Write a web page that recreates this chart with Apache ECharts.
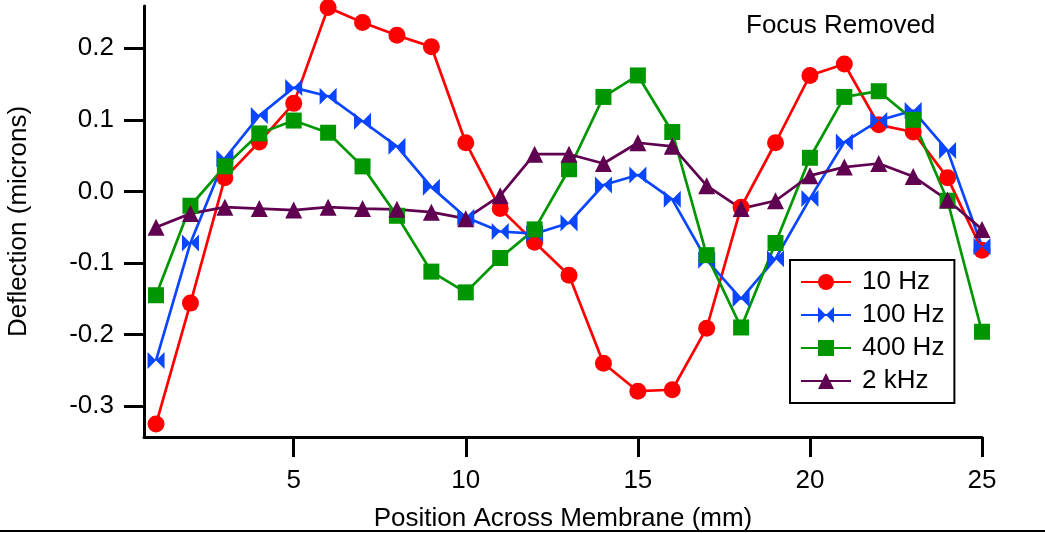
<!DOCTYPE html>
<html>
<head>
<meta charset="utf-8">
<script src="https://cdn.jsdelivr.net/npm/echarts@6/dist/echarts.min.js"></script>
<style>
html,body{margin:0;padding:0;background:#fff;}
#chart{width:1045px;height:533px;}
</style>
</head>
<body>
<div id="chart"></div>
<script>
// ---- data ----
var positions = [1,2,3,4,5,6,7,8,9,10,11,12,13,14,15,16,17,18,19,20,21,22,23,24,25];
var hz10  = [-0.325,-0.156,0.019,0.069,0.123,0.257,0.236,0.218,0.202,0.068,-0.024,-0.071,-0.117,-0.240,-0.279,-0.277,-0.191,-0.022,0.068,0.162,0.178,0.093,0.083,0.019,-0.082];
var hz100 = [-0.236,-0.072,0.046,0.106,0.145,0.133,0.098,0.063,0.006,-0.036,-0.056,-0.059,-0.044,0.009,0.023,-0.011,-0.096,-0.150,-0.094,-0.010,0.069,0.099,0.113,0.057,-0.077];
var hz400 = [-0.145,-0.020,0.035,0.081,0.099,0.082,0.035,-0.034,-0.112,-0.141,-0.093,-0.053,0.031,0.132,0.162,0.083,-0.089,-0.190,-0.072,0.047,0.132,0.140,0.100,-0.013,-0.196];
var khz2  = [-0.050,-0.031,-0.022,-0.024,-0.026,-0.022,-0.024,-0.025,-0.029,-0.038,-0.006,0.052,0.052,0.039,0.068,0.063,0.008,-0.024,-0.013,0.022,0.034,0.039,0.021,-0.012,-0.053];
var seriesNames = ['10 Hz','100 Hz','400 Hz','2 kHz'];
var xTicks = [5,10,15,20,25];
var yTicks = [-0.3,-0.2,-0.1,0,0.1,0.2];

function pairs(vals){ return positions.map(function(p,i){ return [p, vals[i]]; }); }

var FONT = 'Liberation Sans, Arial, Helvetica, sans-serif';
var FS = 26;
var bowtie = 'path://M0,0L8,8L0,16ZM16,0L8,8L16,16Z';

function mk(name, vals, color, symbol, size){
  return {
    name: name, type: 'line', data: pairs(vals), clip: false,
    symbol: symbol, symbolSize: size, showAllSymbol: true,
    lineStyle: {color: color, width: 2.7},
    itemStyle: {color: color},
    emphasis: {disabled: true},
    animation: false
  };
}

var chart = echarts.init(document.getElementById('chart'), null, {renderer: 'canvas'});
chart.setOption({
  animation: false,
  backgroundColor: '#fff',
  textStyle: {fontFamily: FONT},
  title: {
    text: 'Focus Removed', left: 741, top: 8,
    textStyle: {fontFamily: FONT, fontSize: FS, fontWeight: 'normal', color: '#000'}
  },
  grid: {left: 144, right: 63, top: 6, bottom: 96, containLabel: false, outerBoundsMode: 'none'},
  legend: {
    orient: 'vertical', left: 790, top: 260,
    padding: [9, 10, 9, 10],
    itemWidth: 50, itemHeight: 20, itemGap: 7,
    backgroundColor: '#fff', borderColor: '#000', borderWidth: 2, borderRadius: 0,
    textStyle: {fontFamily: FONT, fontSize: FS, color: '#000', padding: [0,0,0,6]},
    data: seriesNames
  },
  xAxis: {
    type: 'value', min: 0.65, max: 25,
    name: 'Position Across Membrane (mm)', nameLocation: 'middle', nameGap: 69,
    nameTextStyle: {fontFamily: FONT, fontSize: FS, color: '#000'},
    axisLine: {onZero: false, lineStyle: {color: '#000', width: 3}},
    axisTick: {show: true, inside: false, length: 20, lineStyle: {color: '#000', width: 3}, customValues: xTicks},
    axisLabel: {fontFamily: FONT, fontSize: FS, color: '#000', margin: 31, customValues: xTicks},
    splitLine: {show: false}
  },
  yAxis: {
    type: 'value', min: -0.343, max: 0.259,
    name: 'Deflection (microns)', nameLocation: 'middle', nameGap: 112,
    nameTextStyle: {fontFamily: FONT, fontSize: FS, color: '#000'},
    axisLine: {show: true, onZero: false, lineStyle: {color: '#000', width: 3}},
    axisTick: {show: true, inside: false, length: 20, lineStyle: {color: '#000', width: 3}, customValues: yTicks},
    axisLabel: {fontFamily: FONT, fontSize: FS, color: '#000', margin: 30, customValues: yTicks,
      formatter: function(v){ return v.toFixed(1); }},
    splitLine: {show: false}
  },
  graphic: [{
    type: 'line', shape: {x1: 0, y1: 531, x2: 1045, y2: 531},
    style: {stroke: '#000', lineWidth: 2}, silent: true
  }],
  series: [
    mk(seriesNames[0], hz10, '#ff0000', 'circle', 17),
    mk(seriesNames[1], hz100, '#0a46ff', bowtie, 17),
    mk(seriesNames[2], hz400, '#009600', 'rect', 16),
    mk(seriesNames[3], khz2, '#600050', 'triangle', 17)
  ]
});
</script>
</body>
</html>
